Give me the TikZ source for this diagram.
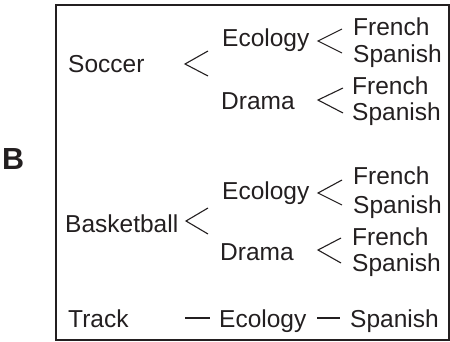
\documentclass[tikz,border=0pt]{standalone}
\usepackage{fontspec}
\setmainfont{Liberation Sans}
\usepackage{tikz}
\usetikzlibrary{calc}
\definecolor{ink}{RGB}{35,31,32}
\newcommand{\treefont}{\fontsize{24.5}{28}\selectfont}
\tikzset{
  word/.style={anchor=base west, inner sep=0pt, text=ink, font=\treefont},
  branch/.style={draw=ink, line width=1.1pt, line join=miter}
}
\begin{document}
\begin{tikzpicture}[x=1pt, y=-1pt]
            \useasboundingbox (0,0) rectangle (450,342);
            \draw[ink, line width=2pt] (56,5) rectangle (448.5,340);
            \node[anchor=base west, inner sep=0pt, text=ink, font=\fontsize{30.5}{33}\selectfont\bfseries] (lab) at (2,170) {B};
            % first sport
            \node[word] (soc) at (68,73) {Soccer};
            \node[word] (eco1) at (222,47) {Ecology};
            \node[word] (fr1) at (353,36) {French};
            \node[word] (sp1) at (353,63) {Spanish};
            \node[word] (dra1) at (221,110) {Drama};
            \node[word] (fr2) at (352,95) {French};
            \node[word] (sp2) at (352,121) {Spanish};
            % second sport
            \node[word] (bas) at (65,232) {Basketball};
            \node[word] (eco2) at (222,200) {Ecology};
            \node[word] (fr3) at (353,185) {French};
            \node[word] (sp3) at (353,213) {Spanish};
            \node[word] (dra2) at (220,260) {Drama};
            \node[word] (fr4) at (352,245) {French};
            \node[word] (sp4) at (352,271) {Spanish};
            % third sport
            \node[word] (trk) at (68,327) {Track};
            \node[word] (eco3) at (219,327) {Ecology};
            \node[word] (sp5) at (350,327) {Spanish};
            % branch points
            \coordinate (s) at (185,64);
            \coordinate (e1) at (318,41);
            \coordinate (d1) at (318,100);
            \coordinate (b) at (186,221);
            \coordinate (e2) at (318,193);
            \coordinate (d2) at (318,250);
            \draw[branch] ($(s)+(23,-13)$) -- (s) -- ($(s)+(23,12)$);
            \draw[branch] ($(e1)+(24,-12)$) -- (e1) -- ($(e1)+(24,12)$);
            \draw[branch] ($(d1)+(25,-12)$) -- (d1) -- ($(d1)+(25,13)$);
            \draw[branch] ($(b)+(22,-13)$) -- (b) -- ($(b)+(22,13)$);
            \draw[branch] ($(e2)+(24,-13)$) -- (e2) -- ($(e2)+(24,12)$);
            \draw[branch] ($(d2)+(23,-12)$) -- (d2) -- ($(d2)+(23,13)$);
            \coordinate (t1) at (185,318);
            \coordinate (t2) at (317,318);
            \draw[branch] (t1) -- ++(25,0);
            \draw[branch] (t2) -- ++(23,0);
        \end{tikzpicture}
\end{document}
